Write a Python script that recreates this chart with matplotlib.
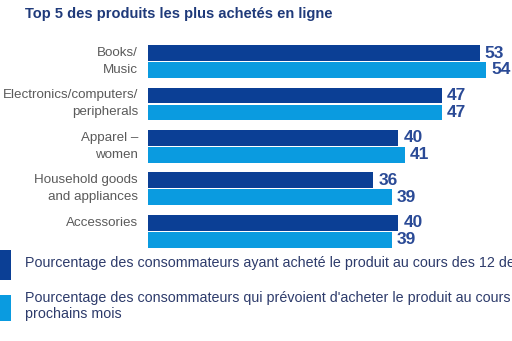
import matplotlib
matplotlib.use("Agg")
import matplotlib.pyplot as plt
import matplotlib.transforms as mtransforms
from matplotlib.patches import Rectangle

plt.rcParams['font.family'] = ['Liberation Sans', 'DejaVu Sans']

categories = ["Books/\nMusic", "Electronics/computers/\nperipherals", "Apparel –\nwomen",
              "Household goods\nand appliances", "Accessories"]
bought = [53, 47, 40, 36, 40]
planned = [54, 47, 41, 39, 39]
title = "Top 5 des produits les plus achetés en ligne"
legend_labels = [
    "Pourcentage des consommateurs ayant acheté le produit au cours des 12 derniers mois",
    "Pourcentage des consommateurs qui prévoient d'acheter le produit au cours des 12\nprochains mois",
]

DARK = "#0b3f95"
LIGHT = "#0a9be0"
VALUE_COLOR = "#2a4a96"
LABEL_COLOR = "#5a5a5a"
TEXT_COLOR = "#2d3b6b"

W, H = 512, 341
fig = plt.figure(figsize=(W / 100, H / 100), dpi=100)
fig.patch.set_facecolor("white")

# axes placed in pixel terms
left_px, right_px = 148, 512
top_px, bot_px = 40, 252
ax = fig.add_axes([left_px / W, 1 - bot_px / H, (right_px - left_px) / W, (bot_px - top_px) / H])
px_per_unit = 6.26
ax.set_xlim(0, (right_px - left_px) / px_per_unit)
ax.set_ylim(4.49, -0.507)
ax.axis("off")

bh = 0.37
off = 0.2
ys = list(range(len(categories)))
ax.barh([y - off for y in ys], bought, height=bh, color=DARK, edgecolor="none")
ax.barh([y + off for y in ys], planned, height=bh, color=LIGHT, edgecolor="none")

pad = mtransforms.offset_copy(ax.transData, fig=fig, x=5, y=0, units="dots")
for y, b, p in zip(ys, bought, planned):
    ax.text(b, y - off, str(b), transform=pad, ha="left", va="center",
            fontsize=12.5, fontweight="bold", color=VALUE_COLOR)
    ax.text(p, y + off, str(p), transform=pad, ha="left", va="center",
            fontsize=12.5, fontweight="bold", color=VALUE_COLOR)

lab_tr = mtransforms.offset_copy(ax.transData, fig=fig, x=-10, y=0, units="dots")
for y, cat in zip(ys, categories):
    lines = cat.split("\n")
    for i, line in enumerate(lines):
        ax.text(0, y - off + i * 2 * off, line, transform=lab_tr, ha="right", va="center",
                fontsize=9.6, color=LABEL_COLOR)

fig.text(25 / W, 1 - 14 / H, title, ha="left", va="center", fontsize=10.5,
         fontweight="bold", color="#1f3a7a")

# legend swatches and texts
fig.patches.append(Rectangle((0, 1 - 280 / H), 11 / W, 30 / H, transform=fig.transFigure,
                             facecolor=DARK, edgecolor="none"))
fig.patches.append(Rectangle((0, 1 - 321 / H), 11 / W, 26 / H, transform=fig.transFigure,
                             facecolor=LIGHT, edgecolor="none"))
fig.text(25 / W, 1 - 263 / H, legend_labels[0], ha="left", va="center", fontsize=10.3,
         color=TEXT_COLOR)
fig.text(25 / W, 1 - 306 / H, legend_labels[1], ha="left", va="center", fontsize=10.3,
         color=TEXT_COLOR, linespacing=1.2)

fig.savefig("out.png", dpi=100, facecolor="white")
